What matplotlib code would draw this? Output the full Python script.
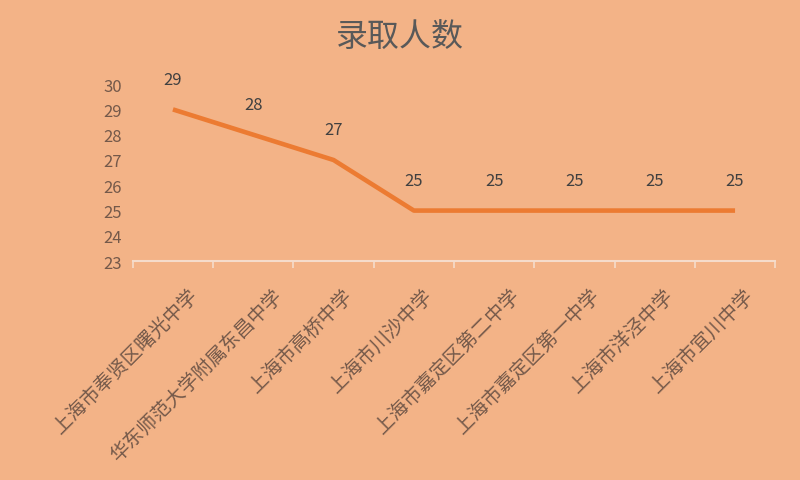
import matplotlib
matplotlib.use("Agg")
import matplotlib.pyplot as plt
import numpy as np

plt.rcParams['font.family'] = ['Noto Sans CJK SC', 'DejaVu Sans']

categories = ["上海市奉贤区曙光中学", "华东师范大学附属东昌中学", "上海市高桥中学", "上海市川沙中学",
              "上海市嘉定区第二中学", "上海市嘉定区第一中学", "上海市洋泾中学", "上海市宜川中学"]
values = [29, 28, 27, 25, 25, 25, 25, 25]
yticks = [23, 24, 25, 26, 27, 28, 29, 30]
title = "录取人数"

bg = "#F3B387"
lab_col = "#74594A"
fig = plt.figure(figsize=(8, 4.81), dpi=100, facecolor=bg)
ax = fig.add_axes([0.166, 0.455, 0.803, 0.368], facecolor=bg)

x = np.arange(len(categories))
ax.plot(x, values, color="#EC7B32", lw=3.3, solid_capstyle='butt')
for xi, v in zip(x, values):
    ax.annotate(str(v), (xi, v), xytext=(0, 30), textcoords='offset pixels',
                ha='center', va='center', fontsize=12, color="#404040")

ax.set_xlim(-0.5, len(categories) - 0.5)
ax.set_ylim(23, 30)
ax.set_yticks(yticks)
ax.set_yticklabels([str(t) for t in yticks], fontsize=12, color=lab_col)
ax.tick_params(axis='y', length=0, pad=8)

ax.set_xticks(x)
ax.set_xticklabels([])
ax.tick_params(axis='x', which='major', length=0)
for xi, c in zip(x, categories):
    ax.annotate(c, (xi, 23), xytext=(2.2 * len(c), -31), textcoords='offset pixels',
                ha='right', va='center', rotation=45, rotation_mode='anchor',
                fontsize=14, color=lab_col, annotation_clip=False)
ax.set_xticks(np.arange(len(categories) + 1) - 0.5, minor=True)
ax.tick_params(axis='x', which='minor', length=5, color="#F5DCCB", width=1.2, direction='out')

for s in ['top', 'right', 'left']:
    ax.spines[s].set_visible(False)
ax.spines['bottom'].set_color("#F5DCCB")
ax.spines['bottom'].set_linewidth(1.5)

fig.text(0.5, 0.921, title, ha='center', va='center', fontsize=23, color="#595959")

fig.savefig("out.png", dpi=100, facecolor=bg)
